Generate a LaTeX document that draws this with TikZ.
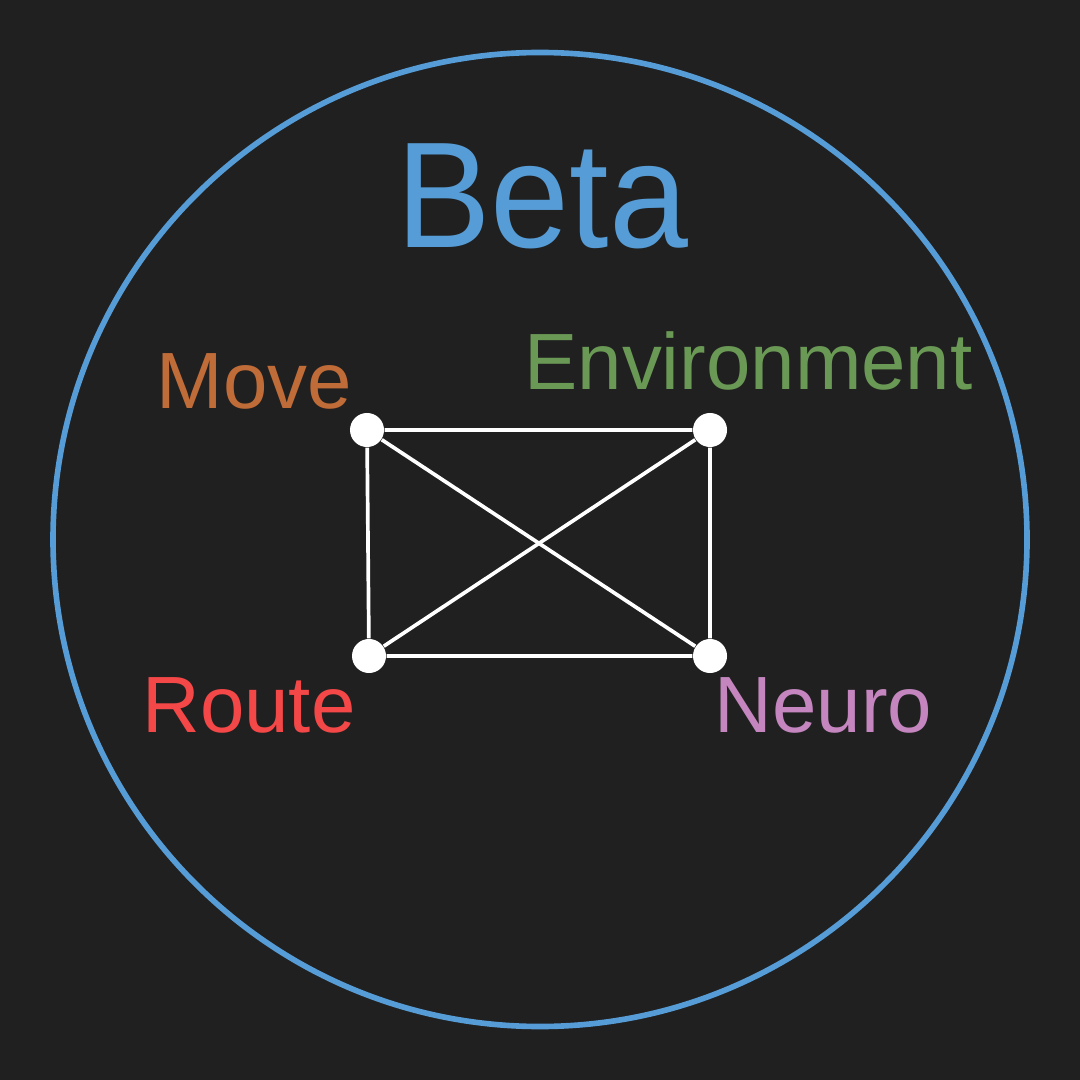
\documentclass[tikz,border=0pt]{standalone}
\usepackage{fontspec}
\setmainfont{Liberation Sans}
\usepackage{xcolor}
\definecolor{bg}{RGB}{32, 32, 32}
\definecolor{beta}{RGB}{86, 156, 214}
\definecolor{mov}{RGB}{192, 108, 56}
\definecolor{env}{RGB}{106, 153, 85}
\definecolor{rte}{RGB}{244, 71, 71}
\definecolor{neu}{RGB}{197, 134, 192}
\tikzset{
    dot/.style={circle, fill=white, inner sep=0pt, minimum size=0.34cm},
    lab/.style={anchor=base, inner sep=0pt, font=\fontsize{22.7}{24}\selectfont},
    edge/.style={draw=white, line width=1.05pt}
}

\begin{document}
\begin{tikzpicture}[x=0.01cm, y=-0.01cm]
        \fill[bg] (0, 0) rectangle (1080, 1080);
        \useasboundingbox (0, 0) rectangle (1080, 1080);
        \draw[color=beta, line width=1.6pt] (540, 539.5) circle (487);
        \node[anchor=base, inner sep=0pt, text=beta, font=\fontsize{42.9}{46}\selectfont, xscale=0.94] (title) at (542, 248) {Beta};
        \node[dot] (move) at (367, 430) {};
        \node[dot] (envi) at (710, 430) {};
        \node[dot] (route) at (369, 656) {};
        \node[dot] (neuro) at (710, 656) {};
        \draw[edge] (move) -- (envi) -- (neuro) -- (route) -- (move);
        \draw[edge] (move) -- (neuro);
        \draw[edge] (envi) -- (route);
        \node[lab, text=mov] (moveLabel) at (254.5, 409) {Move};
        \node[lab, text=env] (envLabel) at (748.5, 390) {Environment};
        \node[lab, text=rte] (routeLabel) at (249, 732) {Route};
        \node[lab, text=neu] (neuroLabel) at (823.5, 732) {Neuro};
    \end{tikzpicture}
\end{document}
